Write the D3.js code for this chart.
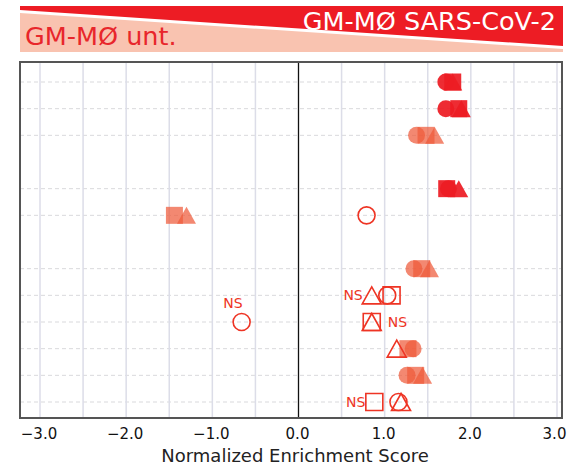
<!DOCTYPE html>
<html><head><meta charset="utf-8">
<script src="https://cdn.jsdelivr.net/npm/d3@7"></script>
<style>html,body{margin:0;padding:0;background:#fff;}svg{display:block;}</style>
</head><body>
<script>
// ---- data ----
const categories = ["P1","P2","P3","gap1","P4","P5","gap2","P6","P7","P8","P9","P10","P11"];
const circleValues   = [1.71, 1.71, 1.37, null, 1.74, 0.79, null, 1.34, 1.03, -0.66, 1.33, 1.26, 1.16];
const circleStatus   = ["hi","hi","mid", null, "hi","ns",  null, "mid","ns","ns",   "mid","mid","ns"];
const squareValues   = [1.79, 1.86, 1.48, null, 1.72, -1.44, null, 1.43, 1.08, 0.85, 1.27, 1.36, 0.88];
const squareStatus   = ["hi","hi","mid", null, "hi","mid",  null, "mid","ns","ns",  "mid","mid","ns"];
const triangleValues = [1.79, 1.89, 1.58, null, 1.86, -1.30, null, 1.52, 0.85, 0.85, 1.14, 1.44, 1.19];
const triangleStatus = ["hi","hi","mid", null, "hi","mid",  null, "mid","ns","ns",  "ns","mid","ns"];
const nsLabels = [
  {cat:"P7", value:0.85, side:"left"},
  {cat:"P8", value:0.85, side:"right"},
  {cat:"P8", value:-0.66, side:"above"},
  {cat:"P11", value:0.88, side:"left"}
];
const xTicks = [-3,-2,-1,0,1,2,3];
const xGrid = [-3,-2.5,-2,-1.5,-1,-0.5,0.5,1,1.5,2,2.5,3];
const leftTitle = "GM-MØ unt.";
const rightTitle = "GM-MØ SARS-CoV-2";
const xTitle = "Normalized Enrichment Score";

// ---- layout ----
const W = 568, H = 469;
const frame = {l:20, r:562, t:62, b:418};
const RED = "#ed1c24", SALMON = "#f9c3b0", MID = "#ef5a3a", NS = "#ee3424";
const FONT = "'DejaVu Sans', Verdana, sans-serif";

const svg = d3.select("body").append("svg").attr("width", W).attr("height", H);

// banner
const bL = 20, bR = 563;
svg.append("polygon").attr("points", `${bL},13 ${bR},49 ${bR},52 ${bL},52`).attr("fill", SALMON);
svg.append("polygon").attr("points", `${bL},6 ${bR},6 ${bR},46 ${bL},10`).attr("fill", RED);
svg.append("text").attr("x", 25).attr("y", 45).attr("font-family", FONT).attr("font-size", 25.5)
  .attr("fill", "#e8262b").text(leftTitle);
svg.append("text").attr("x", 556).attr("y", 30).attr("text-anchor","end").attr("font-family", FONT)
  .attr("font-size", 25.5).attr("fill", "#fff").text(rightTitle);

const x = d3.scaleLinear().domain([-3, 3]).range([40, 557]);
const y = d3.scalePoint().domain(categories).range([82, 402]);

const plot = svg.append("g");
// horizontal dashed grid
plot.selectAll("line.hg").data(categories.filter(c => !c.startsWith("gap"))).join("line")
  .attr("x1", frame.l).attr("x2", frame.r).attr("y1", d => y(d)).attr("y2", d => y(d))
  .attr("stroke", "#d9d9dc").attr("stroke-width", 1).attr("stroke-dasharray", "4,3");
// vertical grid
plot.selectAll("line.vg").data(xGrid).join("line")
  .attr("x1", d => x(d)).attr("x2", d => x(d)).attr("y1", frame.t).attr("y2", frame.b)
  .attr("stroke", "#dcdde8").attr("stroke-width", 1.5);
// zero line
plot.append("line").attr("x1", x(0)).attr("x2", x(0)).attr("y1", frame.t).attr("y2", frame.b)
  .attr("stroke", "#111").attr("stroke-width", 1.3);
// frame
plot.append("rect").attr("x", frame.l).attr("y", frame.t).attr("width", frame.r - frame.l)
  .attr("height", frame.b - frame.t).attr("fill", "none").attr("stroke", "#555").attr("stroke-width", 2);

// axis
const axis = d3.axisBottom(x).tickValues(xTicks).tickFormat(d3.format(".1f")).tickSize(0).tickPadding(0);
const ag = svg.append("g").attr("transform", `translate(0,${frame.b})`).call(axis);
ag.select(".domain").remove();
ag.selectAll("text").attr("font-family", FONT).attr("font-size", 15).attr("fill", "#111")
  .attr("dy", null).attr("y", 21).attr("dx", d => d === 3 ? -3 : -1.5);
svg.append("text").attr("x", 295).attr("y", 462).attr("text-anchor", "middle")
  .attr("font-family", FONT).attr("font-size", 18).attr("fill", "#222").text(xTitle);

// markers
function styleFor(s) {
  if (s === "hi") return {fill: RED, op: 0.93, stroke: "none"};
  if (s === "mid") return {fill: MID, op: 0.72, stroke: "none"};
  return {fill: "none", op: 1, stroke: NS};
}
const R = 8.5, S = 17, TW = 19, TH = 17;
function shapePath(kind, cx, cy) {
  if (kind === "circle") { const p = d3.path(); p.moveTo(cx + R, cy); p.arc(cx, cy, R, 0, 2*Math.PI); p.closePath(); return p.toString(); }
  if (kind === "square") return `M${cx-S/2},${cy-S/2}h${S}v${S}h${-S}Z`;
  return `M${cx},${cy-TH/2}L${cx+TW/2},${cy+TH/2}L${cx-TW/2},${cy+TH/2}Z`;
}
const series = [
  {kind:"circle", values:circleValues, status:circleStatus},
  {kind:"square", values:squareValues, status:squareStatus},
  {kind:"triangle", values:triangleValues, status:triangleStatus}
];
series.forEach(sr => {
  const pts = categories.map((c, i) => ({c, v: sr.values[i], s: sr.status[i]})).filter(d => d.v !== null);
  plot.append("g").selectAll("path").data(pts).join("path")
    .attr("d", d => shapePath(sr.kind, x(d.v), y(d.c)))
    .each(function(d) {
      const st = styleFor(d.s);
      d3.select(this).attr("fill", st.fill).attr("fill-opacity", st.op)
        .attr("stroke", st.stroke).attr("stroke-width", 1.6);
    });
});

// NS labels
svg.append("g").selectAll("text").data(nsLabels).join("text")
  .attr("font-family", FONT).attr("font-size", 14).attr("fill", NS)
  .attr("x", d => d.side === "left" ? x(d.value) - 9 : d.side === "right" ? x(d.value) + 16 : x(d.value) + 1)
  .attr("y", d => d.side === "above" ? y(d.cat) - 14 : y(d.cat) + 5)
  .attr("text-anchor", d => d.side === "left" ? "end" : d.side === "right" ? "start" : "end")
  .text("NS");
</script>
</body></html>
